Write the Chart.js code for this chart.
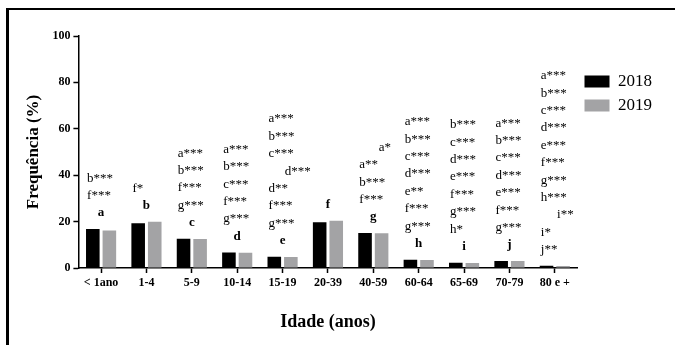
<!DOCTYPE html>
<html>
<head>
<meta charset="utf-8">
<script src="https://cdn.jsdelivr.net/npm/chart.js@4.4.1/dist/chart.umd.min.js"></script>
<style>
  body { margin: 0; background: #fff; }
  .wrap { position: relative; width: 675px; height: 345px; }
  .frame { position: absolute; left: 6px; top: 8px; right: 0; bottom: 0;
           border-top: 2px solid #000; border-left: 3px solid #000; pointer-events: none; }
</style>
</head>
<body>
<div class="wrap">
  <canvas id="grafico" width="675" height="345"></canvas>
  <div class="frame"></div>
</div>
<script>
const idades = ['< 1ano', '1-4', '5-9', '10-14', '15-19', '20-39', '40-59', '60-64', '65-69', '70-79', '80 e +']
const freq2018 = [16.8, 19.3, 12.6, 6.7, 4.8, 19.7, 15.1, 3.6, 2.3, 3.0, 1.0]
const freq2019 = [16.2, 19.9, 12.5, 6.6, 4.7, 20.4, 15.0, 3.5, 2.2, 3.0, 0.9]
const yTicks = [0, 20, 40, 60, 80, 100]

// letras de grupo (negrito) e comparações por faixa etária, de cima para baixo
const letras = ['a', 'b', 'c', 'd', 'e', 'f', 'g', 'h', 'i', 'j', '']
const comparacoes = [
  ['b***', 'f***'],
  ['f*'],
  ['a***', 'b***', 'f***', 'g***'],
  ['a***', 'b***', 'c***', 'f***', 'g***'],
  ['a***', 'b***', 'c***', '     d***', 'd**', 'f***', 'g***'],
  [],
  ['      a*', 'a**', 'b***', 'f***'],
  ['a***', 'b***', 'c***', 'd***', 'e**', 'f***', 'g***'],
  ['b***', 'c***', 'd***', 'e***', 'f***', 'g***', 'h*'],
  ['a***', 'b***', 'c***', 'd***', 'e***', 'f***', 'g***'],
  ['a***', 'b***', 'c***', 'd***', 'e***', 'f***', 'g***', 'h***', '     i**', 'i*', 'j**']
]

const serif = 'Liberation Serif'

//    ------- anotações acima das barras ----------
const anotacoes = {
  id: 'anotacoes',
  afterDatasetsDraw(chart) {
    const ctx = chart.ctx
    const x = chart.scales.x
    const y = chart.scales.y
    const passo = 17.4
    ctx.save()
    ctx.fillStyle = '#000'
    ctx.textBaseline = 'middle'
    idades.forEach((_, i) => {
      const cx = x.getPixelForValue(i)
      let yy = Math.min(y.getPixelForValue(freq2018[i]), y.getPixelForValue(freq2019[i])) - 16
      if (letras[i]) {
        ctx.font = 'bold 13px "' + serif + '"'
        ctx.textAlign = 'center'
        ctx.fillText(letras[i], cx, yy)
        yy -= passo
      }
      ctx.font = '13px "' + serif + '"'
      ctx.textAlign = 'left'
      const linhas = comparacoes[i]
      for (let k = linhas.length - 1; k >= 0; k--) {
        ctx.fillText(linhas[k], cx - 14, yy)
        yy -= passo
      }
    })
    ctx.restore()
  }
}

const ctx = document.getElementById('grafico').getContext('2d')

const chart = new Chart(ctx, {
  type: 'bar',
  data: {
    labels: idades,
    datasets: [{
      label: '2018',
      data: freq2018,
      backgroundColor: '#000000',
      borderWidth: 0
    }, {
      label: '2019',
      data: freq2019,
      backgroundColor: '#a3a3a5',
      borderWidth: 0
    }]
  },
  options: {
    responsive: false,
    animation: false,
    categoryPercentage: 0.73,
    barPercentage: 0.82,
    layout: { padding: { left: 19, right: 13, top: 36, bottom: 8 } },
    plugins: {
      tooltip: { enabled: false },
      legend: {
        position: 'right',
        align: 'start',
        title: { display: true, text: ' ', font: { size: 10 }, padding: { top: 18, bottom: 0 } },
        labels: {
          boxWidth: 25,
          boxHeight: 12,
          padding: 7,
          color: '#000',
          font: { family: serif, size: 17 }
        }
      }
    },
    scales: {
      x: {
        grid: { display: true, drawOnChartArea: false, offset: false, tickLength: 5, tickColor: '#000', tickWidth: 1.5 },
        border: { color: '#000', width: 1.5 },
        ticks: { color: '#000', padding: 3, maxRotation: 0, autoSkip: false, font: { family: serif, size: 12, weight: 'bold' } },
        title: { display: true, text: 'Idade (anos)', color: '#000', padding: { top: 18, bottom: 4 }, font: { family: serif, size: 18, weight: 'bold' } }
      },
      y: {
        min: 0,
        max: 100,
        afterBuildTicks: axis => { axis.ticks = yTicks.map(v => ({ value: v })) },
        grid: { display: true, drawOnChartArea: false, tickLength: 5, tickColor: '#000', tickWidth: 1.5 },
        border: { color: '#000', width: 1.5 },
        ticks: { color: '#000', padding: 3, font: { family: serif, size: 12, weight: 'bold' } },
        title: { display: true, text: 'Frequência (%)', color: '#000', padding: { top: 4, bottom: 6 }, font: { family: serif, size: 17, weight: 'bold' } }
      }
    }
  },
  plugins: [anotacoes]
})
</script>
</body>
</html>
